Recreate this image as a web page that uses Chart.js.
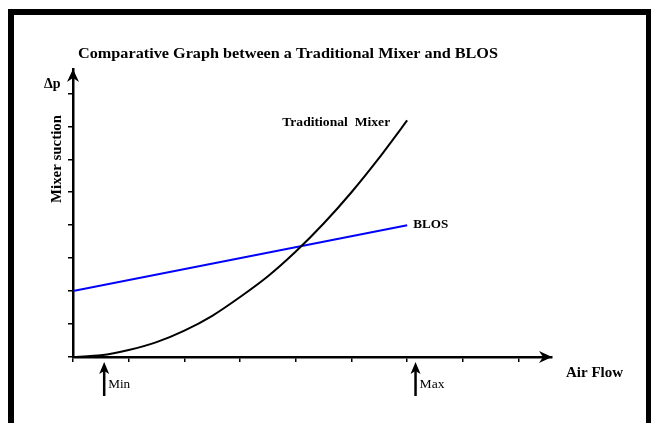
<!DOCTYPE html>
<html>
<head>
<meta charset="utf-8">
<script src="https://cdn.jsdelivr.net/npm/chart.js@4.4.1/dist/chart.umd.min.js"></script>
<style>
html,body{margin:0;padding:0;background:#fff;}
canvas{display:block;}
</style>
</head>
<body>
<canvas id="c" width="651" height="423"></canvas>
<script>
// ---- data (air flow in tick units, suction in tick units) ----
const airFlow      = [0, 0.5, 1, 1.5, 2, 2.5, 3, 3.5, 4, 4.5, 5, 5.5, 6];
const traditional  = [0, 0.05, 0.21, 0.45, 0.8, 1.25, 1.82, 2.45, 3.2, 4.05, 5.0, 6.05, 7.18];
const blosFlow     = [0, 6];
const blos         = [2, 4];
const xTicks       = [0, 1, 2, 3, 4, 5, 6, 7, 8];
const yTicks       = [0, 1, 2, 3, 4, 5, 6, 7, 8];
const markerFlow   = [0.56, 6.15];
const markerLabels = ['Min', 'Max'];
const titleText    = 'Comparative Graph between a Traditional Mixer and BLOS';
const xTitle       = 'Air Flow';
const yTitle       = 'Mixer suction';
const yTopLabel    = '\u0394p';
const seriesNames  = ['Traditional  Mixer', 'BLOS'];

const SERIF = '"Liberation Serif", "Times New Roman", serif';

function arrowHead(ctx, x, y, dir, len, half, notch) {
  ctx.beginPath();
  if (dir === 'up') {
    ctx.moveTo(x, y);
    ctx.lineTo(x - half, y + len);
    ctx.lineTo(x, y + len - notch);
    ctx.lineTo(x + half, y + len);
  } else {
    ctx.moveTo(x, y);
    ctx.lineTo(x - len, y - half);
    ctx.lineTo(x - len + notch, y);
    ctx.lineTo(x - len, y + half);
  }
  ctx.closePath();
  ctx.fill();
}

// draw text stretched horizontally to a target width
function stretchedText(ctx, text, x, y, width, align) {
  const w = ctx.measureText(text).width;
  const k = width / w;
  ctx.save();
  ctx.textAlign = 'left';
  const startX = align === 'right' ? x - width : x;
  ctx.translate(startX, y);
  ctx.scale(k, 1);
  ctx.fillText(text, 0, 0);
  ctx.restore();
}

const decor = {
  id: 'decor',
  beforeDraw(chart) {
    const ctx = chart.ctx;
    ctx.save();
    ctx.fillStyle = '#fff';
    ctx.fillRect(0, 0, chart.width, chart.height);
    ctx.strokeStyle = '#000';
    ctx.lineWidth = 6;
    ctx.strokeRect(11, 12, 638, 440);
    ctx.restore();
  },
  afterDraw(chart) {
    const ctx = chart.ctx;
    const a = chart.chartArea;
    const xs = chart.scales.x, ys = chart.scales.y;
    ctx.save();
    ctx.fillStyle = '#000';
    ctx.strokeStyle = '#000';
    // axis arrowheads
    arrowHead(ctx, a.left, a.top, 'up', 13, 6, 4);
    arrowHead(ctx, a.right, a.bottom, 'right', 13, 6, 4);

    ctx.textBaseline = 'alphabetic';
    // title
    ctx.font = 'bold 15px ' + SERIF;
    stretchedText(ctx, titleText, 78, 58, 420, 'left');

    // delta p
    ctx.font = 'bold 14px ' + SERIF;
    ctx.textAlign = 'left';
    ctx.fillText(yTopLabel, 44, 88);

    // y title rotated
    ctx.save();
    ctx.translate(61, 159);
    ctx.rotate(-Math.PI / 2);
    ctx.font = 'bold 14px ' + SERIF;
    stretchedText(ctx, yTitle, -44, 0, 88, 'left');
    ctx.restore();

    // x title
    ctx.font = 'bold 15px ' + SERIF;
    stretchedText(ctx, xTitle, 566, 377, 57, 'left');

    // series labels
    const lastT = traditional.length - 1;
    ctx.font = 'bold 13px ' + SERIF;
    stretchedText(ctx, seriesNames[0], xs.getPixelForValue(airFlow[lastT]) - 17, ys.getPixelForValue(traditional[lastT]) + 6, 108, 'right');
    stretchedText(ctx, seriesNames[1], xs.getPixelForValue(blosFlow[1]) + 6, ys.getPixelForValue(blos[1]) + 3, 35, 'left');

    // min / max markers
    ctx.lineWidth = 2.5;
    ctx.font = '12px ' + SERIF;
    markerFlow.forEach((v, i) => {
      const px = xs.getPixelForValue(v);
      const tip = a.bottom + 5;
      ctx.beginPath();
      ctx.moveTo(px, tip + 8);
      ctx.lineTo(px, 396);
      ctx.stroke();
      arrowHead(ctx, px, tip, 'up', 12, 5, 3);
      stretchedText(ctx, markerLabels[i], px + 4, 388, i === 0 ? 22 : 25, 'left');
    });
    ctx.restore();
  }
};

const tickSetter = (vals) => (scale) => { scale.ticks = vals.map(v => ({ value: v })); };

new Chart(document.getElementById('c'), {
  type: 'line',
  data: {
    datasets: [
      {
        label: seriesNames[0],
        data: airFlow.map((x, i) => ({ x, y: traditional[i] })),
        borderColor: '#000',
        borderWidth: 2,
        pointRadius: 0,
        tension: 0.2,
        fill: false
      },
      {
        label: seriesNames[1],
        data: blosFlow.map((x, i) => ({ x, y: blos[i] })),
        borderColor: '#0000ff',
        borderWidth: 2,
        pointRadius: 0,
        tension: 0,
        fill: false
      }
    ]
  },
  options: {
    responsive: false,
    animation: false,
    devicePixelRatio: 1,
    layout: { padding: { left: 73, right: 99, top: 69, bottom: 66 } },
    plugins: { legend: { display: false }, title: { display: false }, tooltip: { enabled: false } },
    scales: {
      x: {
        type: 'linear',
        min: 0, max: 8.6,
        afterBuildTicks: tickSetter(xTicks),
        afterFit: (s) => { s.height = 0; },
        ticks: { display: false },
        grid: { drawOnChartArea: false, drawTicks: true, tickLength: 5, color: '#000', lineWidth: 1.5 },
        border: { display: true, color: '#000', width: 2.5 }
      },
      y: {
        type: 'linear',
        min: 0, max: 8.74,
        afterBuildTicks: tickSetter(yTicks),
        afterFit: (s) => { s.width = 0; },
        ticks: { display: false },
        grid: { drawOnChartArea: false, drawTicks: true, tickLength: 5, color: '#000', lineWidth: 1.5 },
        border: { display: true, color: '#000', width: 2.5 }
      }
    }
  },
  plugins: [decor]
});
</script>
</body>
</html>
